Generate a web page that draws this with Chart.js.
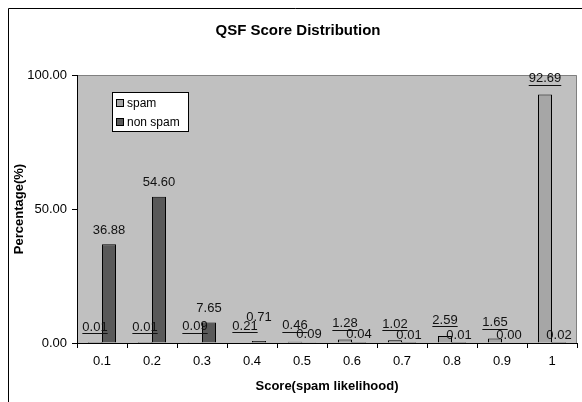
<!DOCTYPE html>
<html>
<head>
<meta charset="utf-8">
<script src="https://cdn.jsdelivr.net/npm/chart.js"></script>
<style>
  html, body { margin: 0; padding: 0; background: #fff; }
  #wrap { width: 582px; height: 402px; }
</style>
</head>
<body>
<div id="wrap"><canvas id="qsfChart" width="582" height="402"></canvas></div>
<script>
// chart data
const scoreLabels = ['0.1', '0.2', '0.3', '0.4', '0.5', '0.6', '0.7', '0.8', '0.9', '1'];
const spamValues = [0.01, 0.01, 0.09, 0.21, 0.46, 1.28, 1.02, 2.59, 1.65, 92.69];
const nonSpamValues = [36.88, 54.60, 7.65, 0.71, 0.09, 0.04, 0.01, 0.01, 0.00, 0.02];
const yTicks = [0, 50, 100];

const FONT = 'Liberation Sans, Arial, sans-serif';
Chart.defaults.font.family = FONT;
Chart.defaults.color = '#000';

// plot background, frame, title and legend box (Excel style)
const excelLook = {
    id: 'excelLook',
    beforeDraw(chart) {
        const { ctx, chartArea: a } = chart;
        ctx.save();
        ctx.fillStyle = '#c0c0c0';
        ctx.fillRect(a.left, a.top, a.right - a.left, a.bottom - a.top);
        ctx.strokeStyle = '#808080';
        ctx.lineWidth = 1;
        ctx.beginPath();
        ctx.moveTo(a.left, a.top + 0.5);
        ctx.lineTo(a.right - 0.5, a.top + 0.5);
        ctx.lineTo(a.right - 0.5, a.bottom);
        ctx.stroke();
        // outer frame (only left + top fall inside the picture)
        ctx.strokeStyle = '#000';
        ctx.beginPath();
        ctx.moveTo(8.5, 402);
        ctx.lineTo(8.5, 8.5);
        ctx.lineTo(582, 8.5);
        ctx.stroke();
        // title
        ctx.fillStyle = '#000';
        ctx.font = 'bold 15px ' + FONT;
        ctx.textAlign = 'center';
        ctx.textBaseline = 'middle';
        ctx.fillText('QSF Score Distribution', 298, 31);
        ctx.restore();
    },
    afterDraw(chart) {
        const { ctx } = chart;
        ctx.save();
        ctx.fillStyle = '#fff';
        ctx.strokeStyle = '#000';
        ctx.lineWidth = 1;
        ctx.fillRect(112, 92, 76, 39);
        ctx.strokeRect(112.5, 92.5, 76, 39);
        ctx.font = '12px ' + FONT;
        ctx.textAlign = 'left';
        ctx.textBaseline = 'middle';
        chart.data.datasets.forEach((ds, i) => {
            const y = 103 + i * 19;
            ctx.fillStyle = ds.backgroundColor;
            ctx.fillRect(116, y - 4, 8, 8);
            ctx.strokeRect(116.5, y - 3.5, 7, 7);
            ctx.fillStyle = '#000';
            ctx.fillText(ds.label, 127, y + 1);
        });
        ctx.restore();
    }
};

// value labels above bars; spam labels are underlined
const barLabels = {
    id: 'barLabels',
    afterDatasetsDraw(chart) {
        const { ctx } = chart;
        ctx.save();
        ctx.font = '13px ' + FONT;
        ctx.textAlign = 'center';
        ctx.textBaseline = 'middle';
        ctx.fillStyle = '#111';
        ctx.strokeStyle = '#111';
        ctx.lineWidth = 1;
        chart.data.datasets.forEach((ds, di) => {
            chart.getDatasetMeta(di).data.forEach((bar, i) => {
                const v = ds.data[i];
                const txt = v.toFixed(2);
                let y;
                if (di === 0) {
                    y = bar.y - 16;
                } else if (v >= 1) {
                    y = bar.y - 14;
                } else {
                    // small non-spam labels sit low, unless they would collide with the spam label
                    y = bar.y - (v > spamValues[i] ? 24 : 8);
                }
                ctx.fillText(txt, bar.x, y);
                if (di === 0) {
                    const w = ctx.measureText(txt).width;
                    ctx.beginPath();
                    ctx.moveTo(bar.x - w / 2, Math.round(y + 6) + 0.5);
                    ctx.lineTo(bar.x + w / 2, Math.round(y + 6) + 0.5);
                    ctx.stroke();
                }
            });
        });
        ctx.restore();
    }
};

new Chart(document.getElementById('qsfChart'), {
    type: 'bar',
    data: {
        labels: scoreLabels,
        datasets: [
            {
                label: 'spam',
                data: spamValues,
                backgroundColor: '#a6a6a6',
                borderColor: '#000',
                borderWidth: 1
            },
            {
                label: 'non spam',
                data: nonSpamValues,
                backgroundColor: '#595959',
                borderColor: '#000',
                borderWidth: 1
            }
        ]
    },
    options: {
        responsive: false,
        devicePixelRatio: 1,
        animation: false,
        layout: { padding: { top: 75, left: 0, right: 5, bottom: 0 } },
        datasets: { bar: { categoryPercentage: 0.56, barPercentage: 1 } },
        plugins: {
            legend: { display: false },
            title: { display: false },
            tooltip: { enabled: false }
        },
        scales: {
            x: {
                grid: { drawOnChartArea: false, drawTicks: true, tickLength: 5, color: '#000' },
                border: { color: '#000' },
                ticks: { font: { size: 13 }, padding: 6, maxRotation: 0 },
                title: {
                    display: true,
                    text: 'Score(spam likelihood)',
                    font: { size: 13, weight: 'bold' },
                    padding: { top: 0, bottom: 8 }
                },
                afterFit(scale) { scale.height = 59; }
            },
            y: {
                min: 0,
                max: 100,
                afterBuildTicks(scale) { scale.ticks = yTicks.map(v => ({ value: v })); },
                grid: { drawOnChartArea: false, drawTicks: true, tickLength: 5, color: '#000' },
                border: { color: '#000' },
                ticks: {
                    font: { size: 13 },
                    padding: 5,
                    callback: v => v.toFixed(2)
                },
                title: {
                    display: true,
                    text: 'Percentage(%)',
                    font: { size: 13, weight: 'bold' },
                    padding: { top: 12, bottom: 0 }
                },
                afterFit(scale) { scale.width = 77; }
            }
        }
    },
    plugins: [excelLook, barLabels]
});
</script>
</body>
</html>
